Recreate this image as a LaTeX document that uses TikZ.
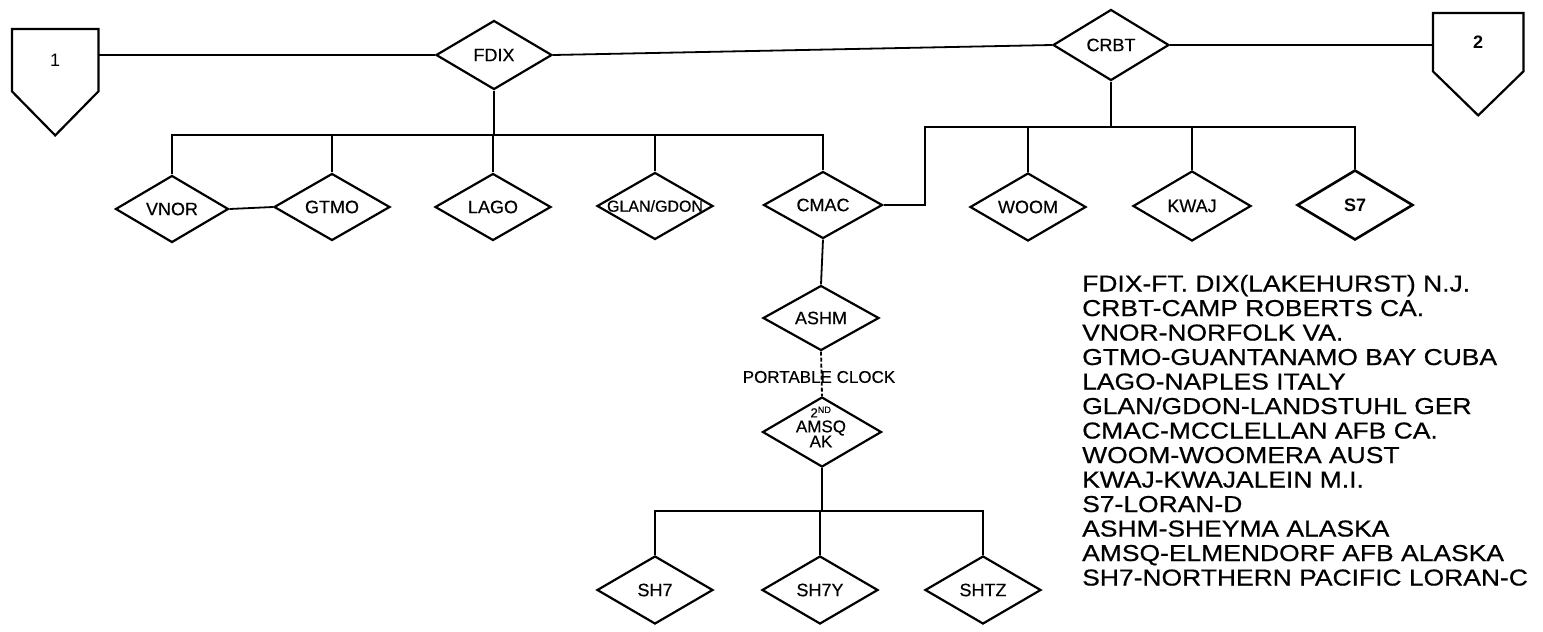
\documentclass[tikz,border=0pt]{standalone}
\usepackage{fontspec}
\setmainfont{Liberation Sans}
\newfontfamily\leroy[FakeStretch=1.15,FakeBold=0.6]{Liberation Sans}
\newfontfamily\stnfont[FakeBold=0.4]{Liberation Sans}
\usetikzlibrary{shapes.geometric}
\newcommand{\dlab}[1]{\makebox[0pt]{#1}}
\begin{document}
\begin{tikzpicture}[x=1pt,y=-1pt,
  stn/.style={draw, shape=diamond, line width=2.2pt, minimum width=116pt, minimum height=67pt, inner sep=0pt, font=\stnfont\fontsize{18}{18}\selectfont},
  wire/.style={line width=1.8pt},
  pent/.style={line width=2.2pt, line join=miter},
  pbox/.style={inner sep=0pt, anchor=north west},
  legend/.style={anchor=base west, inner sep=0pt, font=\leroy\fontsize{23}{23}\selectfont},
]
\useasboundingbox (0,0) rectangle (1543,632);

% off-page connectors
\node[pbox, minimum width=86pt, minimum height=62pt, font=\fontsize{18}{18}\selectfont] (p1) at (12,29) {1};
\draw[pent] (p1.north west) -- (p1.north east) -- (p1.south east) -- ([yshift=-44pt]p1.south) -- (p1.south west) -- cycle;
\node[pbox, minimum width=90pt, minimum height=58pt, font=\bfseries\fontsize{18}{18}\selectfont] (p2) at (1433,13) {2};
\draw[pent] (p2.north west) -- (p2.north east) -- (p2.south east) -- ([yshift=-44pt]p2.south) -- (p2.south west) -- cycle;

% stations
\node[stn, minimum height=69pt] (fdix) at (494,55) {\dlab{FDIX}};
\node[stn, minimum height=71pt] (crbt) at (1111,45) {\dlab{CRBT}};
\node[stn, minimum width=113pt] (vnor) at (172,209) {\dlab{VNOR}};
\node[stn] (gtmo) at (332,207) {\dlab{GTMO}};
\node[stn] (lago) at (493,207) {\dlab{LAGO}};
\node[stn, font=\stnfont\fontsize{16}{16}\selectfont] (glan) at (655,206) {\dlab{GLAN/GDON}};
\node[stn, minimum width=119pt] (cmac) at (823,205) {\dlab{CMAC}};
\node[stn, minimum height=68pt] (woom) at (1028,207) {\dlab{WOOM}};
\node[stn, minimum width=118pt, minimum height=70pt] (kwaj) at (1192,206) {\dlab{KWAJ}};
\node[stn, minimum height=70pt, line width=2.6pt, font=\bfseries\fontsize{18}{18}\selectfont] (s7) at (1355,205) {\dlab{S7}};
\node[stn, minimum height=65pt] (ashm) at (821,318) {\dlab{ASHM}};
\node[stn, minimum width=119pt, minimum height=70pt] (amsq) at (822,432) {};
\node[inner sep=0pt, align=center, font=\stnfont\fontsize{17}{15}\selectfont] (amsqt) at (821,427) {{\fontsize{13}{13}\selectfont 2\textsuperscript{ND}}\\AMSQ\\AK};
\node[stn, minimum height=68pt] (sh7) at (655,590) {\dlab{SH7}};
\node[stn, minimum height=68pt] (sh7y) at (820,590) {\dlab{SH7Y}};
\node[stn, minimum height=68pt] (shtz) at (983,590) {\dlab{SHTZ}};

% top line
\draw[wire] (fdix.west) -- (fdix.west -| p1.east);
\draw[wire] (fdix.east) -- (crbt.west);
\draw[wire] (crbt.east) -- (crbt.east -| p2.west);

% FDIX bus
\coordinate (fbus) at (494,135);
\draw[wire] (fdix.south) -- (fdix.south |- fbus);
\draw[wire] (vnor.north) |- (cmac.north |- fbus) -- (cmac.north);
\draw[wire] (gtmo.north) -- (gtmo.north |- fbus);
\draw[wire] (lago.north) -- (lago.north |- fbus);
\draw[wire] (glan.north) -- (glan.north |- fbus);
\draw[wire] (vnor.east) -- (gtmo.west);

% CRBT bus
\coordinate (cbus) at (925,127);
\draw[wire] (cmac.east) -| (cbus) -- (s7.north |- cbus) -- (s7.north);
\draw[wire] (crbt.south) -- (crbt.south |- cbus);
\draw[wire] (woom.north) -- (woom.north |- cbus);
\draw[wire] (kwaj.north) -- (kwaj.north |- cbus);

% Alaska chain
\draw[wire] (cmac.south) -- (ashm.north);
\draw[wire, dash pattern=on 4pt off 2pt] (ashm.south) -- (amsq.north);
\node[inner sep=0pt, font=\stnfont\fontsize{17}{17}\selectfont] (pc) at (819,377) {PORTABLE CLOCK};
\coordinate (abus) at (820,511);
\draw[wire] (amsq.south) -- (amsq.south |- abus);
\draw[wire] (sh7.north) |- (shtz.north |- abus) -- (shtz.north);
\draw[wire] (sh7y.north) -- (sh7y.north |- abus);

% legend
\foreach \t [count=\i from 0] in {{FDIX-FT. DIX(LAKEHURST) N.J.},{CRBT-CAMP ROBERTS CA.},{VNOR-NORFOLK VA.},{GTMO-GUANTANAMO BAY CUBA},{LAGO-NAPLES ITALY},{GLAN/GDON-LANDSTUHL GER},{CMAC-MCCLELLAN AFB CA.},{WOOM-WOOMERA AUST},{KWAJ-KWAJALEIN M.I.},{S7-LORAN-D},{ASHM-SHEYMA ALASKA},{AMSQ-ELMENDORF AFB ALASKA},{SH7-NORTHERN PACIFIC LORAN-C}}
  \node[legend] (leg\i) at (1082,{291.5+\i*24.5}) {\t};
\end{tikzpicture}
\end{document}
